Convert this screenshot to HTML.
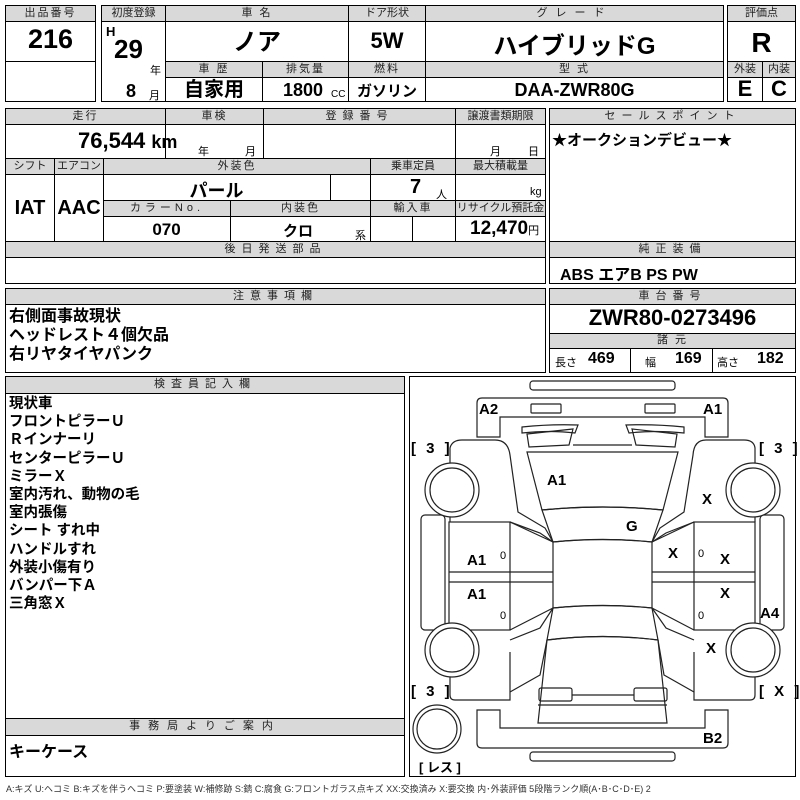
<!DOCTYPE html>
<html><head><meta charset="utf-8"><style>
*{margin:0;padding:0;box-sizing:border-box}
body{width:800px;height:800px;background:#fff;position:relative;overflow:hidden;font-family:"Liberation Sans","Noto Sans CJK JP",sans-serif;color:#000}
.b{position:absolute;border:1px solid #000}
.h{position:absolute;background:#d9d9d9;border:1px solid #000;font-size:11px;text-align:center;line-height:14px;color:#222;letter-spacing:2px}
.t{position:absolute;white-space:nowrap;font-weight:bold}
.s{position:absolute;white-space:nowrap;font-size:11px}
</style></head><body>
<!-- top row -->
<div class="b" style="left:5px;top:5px;width:91px;height:97px"></div>
<div class="h" style="left:5px;top:5px;width:91px;height:17px">出品番号</div>
<div class="b" style="left:5px;top:61px;width:91px;height:1px;border-width:1px 0 0 0"></div>
<div class="t" style="left:5px;top:24px;width:91px;text-align:center;font-size:27px">216</div>

<div class="b" style="left:101px;top:5px;width:623px;height:97px"></div>
<div class="h" style="left:101px;top:5px;width:65px;height:17px;letter-spacing:0">初度登録</div>
<div class="h" style="left:165px;top:5px;width:184px;height:17px">車 名</div>
<div class="h" style="left:348px;top:5px;width:78px;height:17px;letter-spacing:0">ドア形状</div>
<div class="h" style="left:425px;top:5px;width:299px;height:17px;letter-spacing:8px">グレード</div>
<div class="b" style="left:165px;top:21px;width:1px;height:81px;border-width:0 0 0 1px"></div>
<div class="b" style="left:348px;top:21px;width:1px;height:81px;border-width:0 0 0 1px"></div>
<div class="b" style="left:425px;top:21px;width:1px;height:81px;border-width:0 0 0 1px"></div>
<div class="b" style="left:262px;top:61px;width:1px;height:41px;border-width:0 0 0 1px"></div>
<div class="h" style="left:165px;top:61px;width:98px;height:17px">車 歴</div>
<div class="h" style="left:262px;top:61px;width:87px;height:17px">排気量</div>
<div class="h" style="left:348px;top:61px;width:78px;height:17px">燃料</div>
<div class="h" style="left:425px;top:61px;width:299px;height:17px">型 式</div>
<div class="t" style="left:106px;top:24px;font-size:13px">H</div>
<div class="t" style="left:114px;top:34px;font-size:26px">29</div>
<div class="s" style="left:150px;top:62px">年</div>
<div class="t" style="left:126px;top:81px;font-size:18px">8</div>
<div class="s" style="left:149px;top:87px">月</div>
<div class="t" style="left:165px;top:22px;width:184px;text-align:center;font-size:24px">ノア</div>
<div class="t" style="left:348px;top:28px;width:78px;text-align:center;font-size:22px">5W</div>
<div class="t" style="left:425px;top:26px;width:299px;text-align:center;font-size:24px">ハイブリッドG</div>
<div class="t" style="left:165px;top:78px;width:98px;text-align:center;font-size:20px;line-height:24px">自家用</div>
<div class="t" style="left:283px;top:80px;font-size:18px">1800</div>
<div class="s" style="left:331px;top:89px;font-size:10px">CC</div>
<div class="t" style="left:348px;top:80px;width:78px;text-align:center;font-size:15px">ガソリン</div>
<div class="t" style="left:425px;top:80px;width:299px;text-align:center;font-size:18px">DAA-ZWR80G</div>

<div class="b" style="left:727px;top:5px;width:69px;height:97px"></div>
<div class="h" style="left:727px;top:5px;width:69px;height:17px;letter-spacing:0">評価点</div>
<div class="h" style="left:727px;top:61px;width:36px;height:17px;letter-spacing:0">外装</div>
<div class="h" style="left:762px;top:61px;width:34px;height:17px;letter-spacing:0">内装</div>
<div class="b" style="left:762px;top:77px;width:1px;height:25px;border-width:0 0 0 1px"></div>
<div class="t" style="left:727px;top:27px;width:69px;text-align:center;font-size:28px">R</div>
<div class="t" style="left:727px;top:76px;width:36px;text-align:center;font-size:22px">E</div>
<div class="t" style="left:762px;top:76px;width:34px;text-align:center;font-size:22px">C</div>

<!-- section 2 -->
<div class="b" style="left:5px;top:108px;width:541px;height:176px"></div>
<div class="h" style="left:5px;top:108px;width:161px;height:17px">走行</div>
<div class="h" style="left:165px;top:108px;width:99px;height:17px">車検</div>
<div class="h" style="left:263px;top:108px;width:193px;height:17px;letter-spacing:6px">登録番号</div>
<div class="h" style="left:455px;top:108px;width:91px;height:17px;letter-spacing:0">譲渡書類期限</div>
<div class="b" style="left:165px;top:124px;width:1px;height:35px;border-width:0 0 0 1px"></div>
<div class="b" style="left:263px;top:124px;width:1px;height:35px;border-width:0 0 0 1px"></div>
<div class="b" style="left:455px;top:124px;width:1px;height:118px;border-width:0 0 0 1px"></div>
<div class="t" style="left:78px;top:128px;font-size:22px">76,544 <span style="font-size:18px">km</span></div>
<div class="s" style="left:198px;top:143px">年</div><div class="s" style="left:245px;top:143px">月</div>
<div class="s" style="left:490px;top:143px">月</div><div class="s" style="left:528px;top:143px">日</div>
<div class="h" style="left:5px;top:158px;width:50px;height:17px;letter-spacing:0">シフト</div>
<div class="h" style="left:54px;top:158px;width:50px;height:17px;letter-spacing:0">エアコン</div>
<div class="h" style="left:103px;top:158px;width:268px;height:17px">外装色</div>
<div class="h" style="left:370px;top:158px;width:86px;height:17px;letter-spacing:0">乗車定員</div>
<div class="h" style="left:455px;top:158px;width:91px;height:17px;letter-spacing:0">最大積載量</div>
<div class="b" style="left:54px;top:174px;width:1px;height:68px;border-width:0 0 0 1px"></div>
<div class="b" style="left:103px;top:174px;width:1px;height:68px;border-width:0 0 0 1px"></div>
<div class="b" style="left:330px;top:174px;width:1px;height:27px;border-width:0 0 0 1px"></div>
<div class="b" style="left:370px;top:174px;width:1px;height:68px;border-width:0 0 0 1px"></div>
<div class="b" style="left:412px;top:216px;width:1px;height:26px;border-width:0 0 0 1px"></div>
<div class="b" style="left:230px;top:216px;width:1px;height:26px;border-width:0 0 0 1px"></div>
<div class="t" style="left:5px;top:197px;width:50px;text-align:center;font-size:20px">IAT</div>
<div class="t" style="left:54px;top:197px;width:50px;text-align:center;font-size:20px">AAC</div>
<div class="t" style="left:103px;top:177px;width:227px;text-align:center;font-size:18px">パール</div>
<div class="t" style="left:410px;top:176px;font-size:20px">7</div><div class="s" style="left:436px;top:186px">人</div>
<div class="s" style="left:530px;top:186px">kg</div>
<div class="h" style="left:103px;top:200px;width:128px;height:17px;letter-spacing:4px">カラーNo.</div>
<div class="h" style="left:230px;top:200px;width:141px;height:17px">内装色</div>
<div class="h" style="left:370px;top:200px;width:86px;height:17px">輸入車</div>
<div class="h" style="left:455px;top:200px;width:91px;height:17px;letter-spacing:0">リサイクル預託金</div>
<div class="t" style="left:103px;top:220px;width:127px;text-align:center;font-size:17px">070</div>
<div class="t" style="left:283px;top:220px;font-size:15px">クロ</div><div class="s" style="left:355px;top:227px">系</div>
<div class="t" style="left:470px;top:218px;font-size:19px">12,470<span style="font-size:11px;font-weight:normal">円</span></div>
<div class="h" style="left:5px;top:241px;width:541px;height:17px;letter-spacing:6px">後日発送部品</div>

<div class="b" style="left:549px;top:108px;width:247px;height:176px"></div>
<div class="h" style="left:549px;top:108px;width:247px;height:17px;letter-spacing:6px">セールスポイント</div>
<div class="t" style="left:552px;top:129px;font-size:15px">★オークションデビュー★</div>
<div class="h" style="left:549px;top:241px;width:247px;height:17px;letter-spacing:6px">純正装備</div>
<div class="t" style="left:560px;top:261px;font-size:16px">ABS エアB PS PW</div>

<!-- section 3 -->
<div class="b" style="left:5px;top:288px;width:541px;height:85px"></div>
<div class="h" style="left:5px;top:288px;width:541px;height:17px;letter-spacing:6px">注意事項欄</div>
<div class="t" style="left:9px;top:307px;font-size:16px;line-height:19px">右側面事故現状<br>ヘッドレスト４個欠品<br>右リヤタイヤパンク</div>
<div class="b" style="left:549px;top:288px;width:247px;height:85px"></div>
<div class="h" style="left:549px;top:288px;width:247px;height:17px;letter-spacing:6px">車台番号</div>
<div class="t" style="left:549px;top:305px;width:247px;text-align:center;font-size:22px">ZWR80-0273496</div>
<div class="h" style="left:549px;top:333px;width:247px;height:16px;line-height:13px">諸 元</div>
<div class="b" style="left:630px;top:348px;width:1px;height:25px;border-width:0 0 0 1px"></div>
<div class="b" style="left:712px;top:348px;width:1px;height:25px;border-width:0 0 0 1px"></div>
<div class="s" style="left:555px;top:354px">長さ</div><div class="t" style="left:588px;top:350px;font-size:16px">469</div>
<div class="s" style="left:645px;top:354px">幅</div><div class="t" style="left:675px;top:350px;font-size:16px">169</div>
<div class="s" style="left:717px;top:354px">高さ</div><div class="t" style="left:757px;top:350px;font-size:16px">182</div>

<!-- section 4 -->
<div class="b" style="left:5px;top:376px;width:400px;height:401px"></div>
<div class="h" style="left:5px;top:376px;width:400px;height:18px;line-height:15px;letter-spacing:6px">検査員記入欄</div>
<div class="t" style="left:9px;top:395px;font-size:14.5px;line-height:18.2px">現状車<br>フロントピラーＵ<br>Ｒインナーリ<br>センターピラーＵ<br>ミラーＸ<br>室内汚れ、動物の毛<br>室内張傷<br>シート すれ中<br>ハンドルすれ<br>外装小傷有り<br>バンパー下Ａ<br>三角窓Ｘ</div>
<div class="h" style="left:5px;top:718px;width:400px;height:18px;line-height:15px;letter-spacing:8px">事務局よりご案内</div>
<div class="t" style="left:9px;top:738px;font-size:16px">キーケース</div>

<div class="b" style="left:409px;top:376px;width:387px;height:401px"></div>
<svg style="position:absolute;left:0;top:0" width="800" height="800" viewBox="0 0 800 800" fill="none" stroke="#222" stroke-width="1.2">
<rect x="530" y="381" width="145" height="9" rx="3"/>
<rect x="530" y="752" width="145" height="9" rx="3"/>
<path d="M482 398 H723 Q728 398 728 403 V437 H705 V417 H500 V437 H477 V403 Q477 398 482 398Z"/>
<path d="M482 748 H723 Q728 748 728 743 V710 H705 V728 H500 V710 H477 V743 Q477 748 482 748Z"/>
<rect x="531" y="404" width="30" height="9" rx="1"/>
<rect x="645" y="404" width="30" height="9" rx="1"/>
<path d="M522 427 Q550 424 578 425 L575 433 Q550 430 522 433 Z" />
<path d="M626 425 Q655 424 684 427 L684 433 Q655 430 629 433 Z"/>
<path d="M527 434 L573 429 L569 445 L529 447 Z"/>
<path d="M632 429 L677 434 L675 447 L636 445 Z"/>
<path d="M573 445 L632 445"/>
<path d="M527 452 L678 452 L663 510 Q603 504 542 510 Z"/>
<path d="M542 510 Q603 504 663 510 L652 542 Q603 537 553 542 Z"/>
<path d="M553 542 Q603 537 652 542 V608 Q603 603 553 608 Z"/>
<path d="M553 608 Q603 603 652 608 L658 640 Q603 633 547 640 Z"/>
<path d="M547 640 Q603 633 658 640 L667 723 H538 Z"/>
<rect x="539" y="688" width="33" height="13" rx="2"/>
<rect x="634" y="688" width="33" height="13" rx="2"/>
<path d="M572 695 H634 M538 705 H667"/>
<!-- front fenders -->
<path d="M450 463 V448 Q452 440 462 440 H495 Q508 440 510 455 L518 512 L545 528 L553 542"/>
<path d="M510 522 L540 533 L553 542"/>
<path d="M450 517 V522"/>
<path d="M706 440 Q694 440 693 455 L684 512 L660 528 L652 542"/>
<path d="M706 440 H744 Q754 440 755 448 V463 M755 517 V522"/>
<path d="M694 522 L666 533 L652 542"/>
<!-- rear fenders -->
<path d="M450 677 V695 Q450 700 455 700 H510 V652"/>
<path d="M450 630 V623"/>
<path d="M510 640 L540 628 L553 608 M510 692 L540 675 L547 640"/>
<path d="M755 677 V695 Q755 700 750 700 H694 V652"/>
<path d="M755 630 V623"/>
<path d="M694 640 L666 628 L652 608 M694 692 L664 675 L658 640"/>
<!-- doors -->
<rect x="449" y="522" width="61" height="108"/>
<path d="M449 572 H553 M449 582 H553 M510 522 L553 542 M510 630 L553 608"/>
<rect x="694" y="522" width="61" height="108"/>
<path d="M652 572 H755 M652 582 H755 M694 522 L652 542 M694 630 L652 608"/>
<rect x="421" y="515" width="24" height="115" rx="4"/>
<rect x="760" y="515" width="24" height="115" rx="4"/>
<circle cx="452" cy="490" r="27" fill="#fff"/><circle cx="452" cy="490" r="22"/>
<circle cx="753" cy="490" r="27" fill="#fff"/><circle cx="753" cy="490" r="22"/>
<circle cx="452" cy="650" r="27" fill="#fff"/><circle cx="452" cy="650" r="22"/>
<circle cx="753" cy="650" r="27" fill="#fff"/><circle cx="753" cy="650" r="22"/>
<circle cx="437" cy="729" r="24"/><circle cx="437" cy="729" r="20"/>
</svg>
<div class="t" style="left:479px;top:401px;font-size:15px">A2</div>
<div class="t" style="left:703px;top:401px;font-size:15px">A1</div>
<div class="t" style="left:411px;top:440px;font-size:15px;letter-spacing:3px">[ 3 ]</div>
<div class="t" style="left:759px;top:440px;font-size:15px;letter-spacing:3px">[ 3 ]</div>
<div class="t" style="left:547px;top:472px;font-size:15px">A1</div>
<div class="t" style="left:702px;top:491px;font-size:15px">X</div>
<div class="t" style="left:626px;top:518px;font-size:15px">G</div>
<div class="t" style="left:668px;top:545px;font-size:15px">X</div>
<div class="t" style="left:720px;top:551px;font-size:15px">X</div>
<div class="t" style="left:720px;top:585px;font-size:15px">X</div>
<div class="t" style="left:467px;top:552px;font-size:15px">A1</div>
<div class="t" style="left:467px;top:586px;font-size:15px">A1</div>
<div class="s" style="left:500px;top:550px">0</div>
<div class="s" style="left:500px;top:610px">0</div>
<div class="s" style="left:698px;top:548px">0</div>
<div class="s" style="left:698px;top:610px">0</div>
<div class="t" style="left:760px;top:605px;font-size:15px">A4</div>
<div class="t" style="left:706px;top:640px;font-size:15px">X</div>
<div class="t" style="left:411px;top:683px;font-size:15px;letter-spacing:3px">[ 3 ]</div>
<div class="t" style="left:759px;top:683px;font-size:15px;letter-spacing:3px">[ X ]</div>
<div class="t" style="left:703px;top:730px;font-size:15px">B2</div>
<div class="t" style="left:419px;top:757px;font-size:13px">[ レス ]</div>
<div class="s" style="left:6px;top:782px;font-size:9px;color:#333">A:キズ U:ヘコミ B:キズを伴うヘコミ P:要塗装 W:補修跡 S:錆 C:腐食 G:フロントガラス点キズ XX:交換済み X:要交換 内･外装評価 5段階ランク順(A･B･C･D･E) 2</div>
</body></html>
